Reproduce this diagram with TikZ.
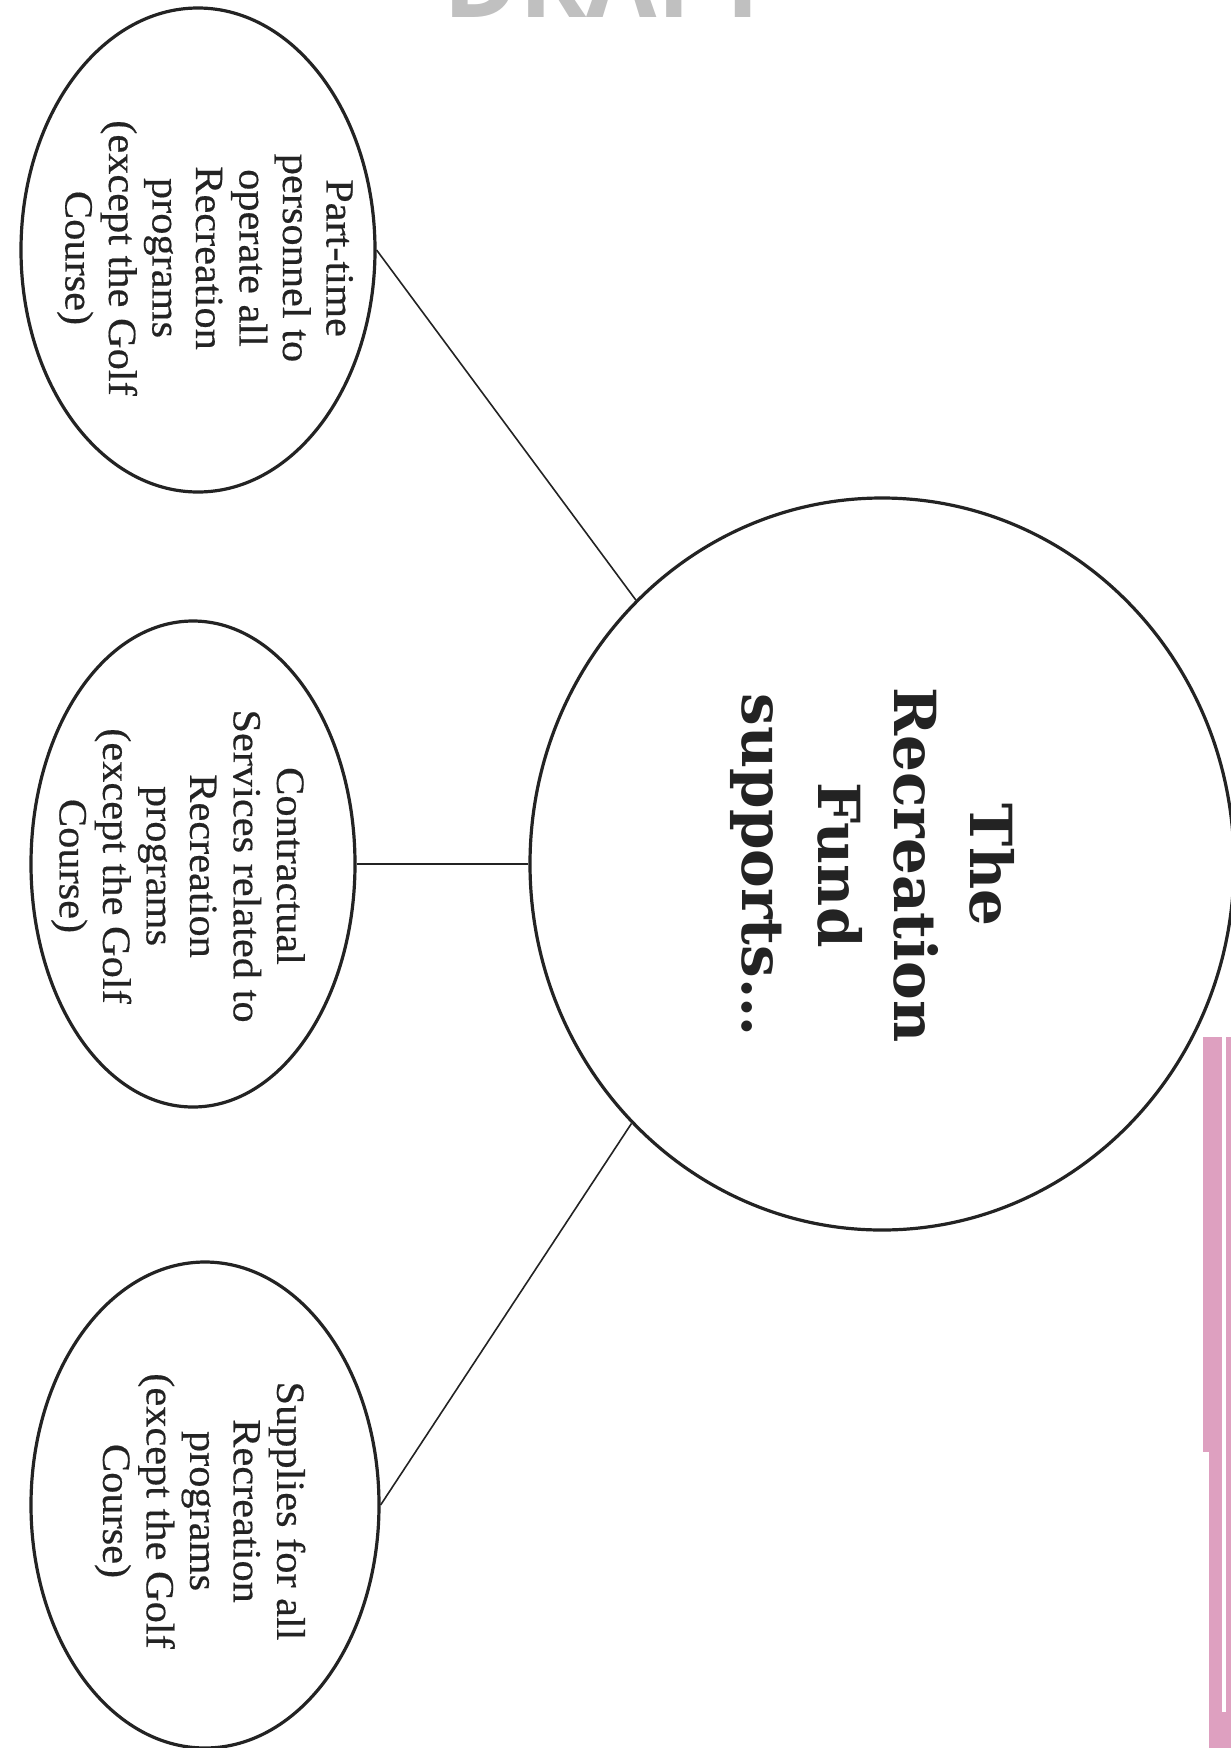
\documentclass[tikz,border=0pt]{standalone}
\usepackage{fontspec}
\setmainfont{Liberation Serif}[FakeStretch=1.06,FakeBold=0.4]
\newfontfamily\titlefont{DejaVu Serif}
\newfontfamily\wmfont{Open Sans}
\usetikzlibrary{shapes.geometric}
\definecolor{ink}{RGB}{35,35,35}
\definecolor{pinkbar}{RGB}{222,160,192}
\definecolor{wmgray}{RGB}{192,192,192}
\tikzset{
  bubble/.style={ellipse, draw=ink, line width=3.2pt, inner sep=0pt},
  bubbletext/.style={rotate=-90, align=center, text=ink, inner sep=0pt,
    font=\fontsize{40}{43.5}\selectfont},
  titletext/.style={rotate=-90, align=center, text=ink, inner sep=0pt,
    font=\titlefont\bfseries\fontsize{58}{76}\selectfont},
  link/.style={draw=ink, line width=1.6pt},
}
\begin{document}
\begin{tikzpicture}[x=1pt,y=-1pt]
\useasboundingbox (0,0) rectangle (1231,1748);
\fill[white] (0,0) rectangle (1231,1748);
% watermark (cut off at top, as in the reference)
\node[anchor=base, text=wmgray, font=\wmfont\bfseries\fontsize{102}{102}\selectfont, inner sep=0pt] (wm) at (608,17) {DRAFT};
% pink bar at right edge
\fill[pinkbar] (1203,1037) rectangle (1222,1452);
\fill[pinkbar] (1209,1452) rectangle (1222,1748);
\fill[pinkbar] (1226,1037) rectangle (1231,1748);
\fill[pinkbar] (1209,1712) rectangle (1231,1748);
% shapes
\node[bubble, minimum width=704pt, minimum height=732pt] (big) at (882,864) {};
\node[bubble, minimum width=354pt, minimum height=484pt] (e1) at (198,250) {};
\node[bubble, minimum width=324pt, minimum height=486pt] (e2) at (193,864) {};
\node[bubble, minimum width=348pt, minimum height=486pt] (e3) at (205,1505) {};
% texts
\node[titletext] (t0) at (872,865) {The\\Recreation\\Fund\\supports\dots};
\node[bubbletext] (t1) at (205,258) {Part-time\\personnel to\\operate all\\Recreation\\programs\\(except the Golf\\Course)};
\node[bubbletext] (t2) at (178,866) {Contractual\\Services related to\\Recreation\\programs\\(except the Golf\\Course)};
\node[bubbletext] (t3) at (200,1511) {Supplies for all\\Recreation\\programs\\(except the Golf\\Course)};
% connectors
\draw[link] (e1.east) -- (big.133.7);
\draw[link] (e2.east) -- (big.west);
\draw[link] (e3.east) -- (big.226.3);
\end{tikzpicture}
\end{document}
